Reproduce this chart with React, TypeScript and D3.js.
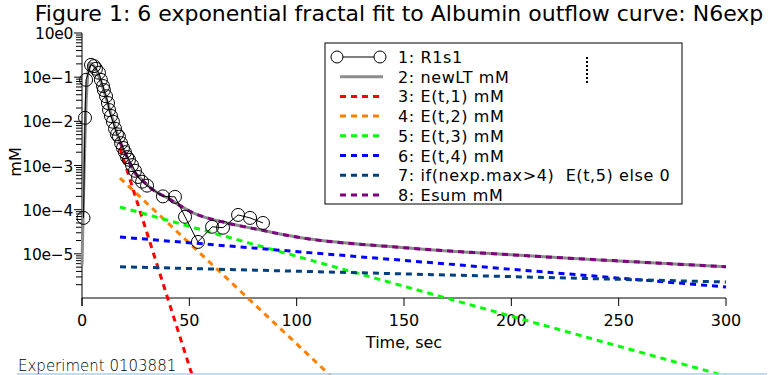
import React from 'react';
import * as d3 from 'd3';

// R1s1 data points (time, mM)
const r1s1Time = [0.7, 1.4, 1.9, 4.2, 5.6, 6.5, 7.9, 8.8, 9.8, 10.2, 11.2, 12.1, 12.6, 13.5, 14.4, 15.4, 16.3, 17.2, 18.2, 19.1, 20.0, 21.0, 21.9, 23.3, 24.7, 26.1, 28.0, 30.3, 37.7, 43.3, 48.0, 54.0, 60.6, 65.7, 72.7, 78.3, 84.3];
const r1s1Val = [6.5e-5, 1.2e-2, 8.7e-2, 0.19, 0.178, 0.155, 0.126, 0.087, 0.063, 0.051, 0.037, 0.026, 0.018, 0.0132, 0.0098, 0.0068, 0.0051, 0.0045, 0.0032, 0.0025, 0.002, 0.00155, 0.00135, 0.00102, 7.6e-4, 5.5e-4, 4.3e-4, 3.5e-4, 2.0e-4, 1.95e-4, 6.9e-5, 1.86e-5, 4.1e-5, 3.9e-5, 7.6e-5, 6.5e-5, 5.0e-5];

// newLT model curve
const newLTTime = [0, 0.6, 1.4, 2.2, 3.7, 14.4, 17.7, 21.0, 23.8, 28.0, 33.1, 39.6, 51.7, 67.5, 82.9, 94.1, 100, 150, 200, 250, 300];
const newLTVal = [5.6e-6, 1.15e-4, 4.5e-3, 5.1e-2, 0.21, 1.07e-2, 3.4e-3, 1.55e-3, 7.9e-4, 4.7e-4, 2.8e-4, 1.86e-4, 8.5e-5, 5.0e-5, 3.5e-5, 2.7e-5, 2.4e-5, 1.38e-5, 9.5e-6, 6.9e-6, 5.1e-6];

// Esum curve
const esumTime = [17.7, 21.0, 23.8, 28.0, 33.1, 39.6, 51.7, 67.5, 82.9, 94.1, 100, 150, 200, 250, 300];
const esumVal = [3.4e-3, 1.55e-3, 7.9e-4, 4.7e-4, 2.8e-4, 1.86e-4, 8.5e-5, 5.0e-5, 3.5e-5, 2.7e-5, 2.4e-5, 1.38e-5, 9.5e-6, 6.9e-6, 5.1e-6];

// exponential components: start / end readings
const e1Time = [17.7, 52];
const e1Val = [2.5e-3, 1.4e-8];
const e2Time = [17.7, 116];
const e2Val = [5.2e-4, 1.7e-8];
const e3Time = [17.7, 300];
const e3Val = [1.15e-4, 1.7e-8];
const e4Time = [17.7, 300];
const e4Val = [2.4e-5, 1.78e-6];
const e5Time = [17.7, 300];
const e5Val = [5.1e-6, 2.3e-6];

const xTicks = [0, 50, 100, 150, 200, 250, 300];
const yDecades = [0, -1, -2, -3, -4, -5];

const legendLabels = ['1: R1s1', '2: newLT mM', '3: E(t,1) mM', '4: E(t,2) mM', '5: E(t,3) mM', '6: E(t,4) mM', '7: if(nexp.max>4)  E(t,5) else 0', '8: Esum mM'];
const legendColors = ['#000000', '#8c8c8c', '#ff0000', '#ff8000', '#00ff00', '#0000ff', '#004080', '#800080'];

const W = 775;
const H = 375;
const font = '"DejaVu Sans", Verdana, sans-serif';

const App = () => {
  const x = d3.scaleLinear().domain([0, 300]).range([82, 726]);
  const y = d3.scaleLog().domain([1e-6, 1]).range([298, 33]);

  const zip = (t: number[], v: number[]) => t.map((d, i) => [d, v[i]] as [number, number]);
  const line = d3.line<[number, number]>().x(d => x(d[0])).y(d => y(d[1]));
  const smooth = d3.line<[number, number]>().x(d => x(d[0])).y(d => y(d[1])).curve(d3.curveMonotoneX);

  const r1s1 = zip(r1s1Time, r1s1Val);
  const comps = [
    { d: zip(e1Time, e1Val), c: legendColors[2] },
    { d: zip(e2Time, e2Val), c: legendColors[3] },
    { d: zip(e3Time, e3Val), c: legendColors[4] },
    { d: zip(e4Time, e4Val), c: legendColors[5] },
    { d: zip(e5Time, e5Val), c: legendColors[6] },
  ];

  // minor log ticks
  const minor: number[] = [];
  for (let k = -6; k < 0; k++) {
    for (let m = 2; m <= 9; m++) minor.push(m * Math.pow(10, k));
  }

  const lx = 325, ly = 43, rowY0 = 57, rowDy = 19.7;

  return (
    <svg width={W} height={H} style={{ position: 'absolute', left: 0, top: 0, background: '#fff' }} fontFamily={font}>
      <rect width={W} height={H} fill="#fff" />
      <text x={399} y={21} textAnchor="middle" fontSize={22}>
        Figure 1: 6 exponential fractal fit to Albumin outflow curve: N6exp
      </text>

      {/* y axis */}
      <line x1={82} x2={82} y1={33} y2={306} stroke="#000" />
      {minor.map((v, i) => (
        <line key={'m' + i} x1={76} x2={82} y1={y(v)} y2={y(v)} stroke="#000" />
      ))}
      {yDecades.map(k => (
        <g key={'y' + k}>
          <line x1={74} x2={82} y1={y(Math.pow(10, k))} y2={y(Math.pow(10, k))} stroke="#000" />
          <text x={73} y={y(Math.pow(10, k)) + 6} textAnchor="end" fontSize={15.5} letterSpacing={-0.3}>
            {'10e' + (k === 0 ? '0' : '\u2212' + -k)}
          </text>
        </g>
      ))}
      <text transform="translate(21,162) rotate(-90)" textAnchor="middle" fontSize={16}>mM</text>

      {/* x axis */}
      <line x1={82} x2={726} y1={298} y2={298} stroke="#000" />
      {xTicks.map(t => (
        <g key={'x' + t}>
          <line x1={x(t)} x2={x(t)} y1={298} y2={306} stroke="#000" />
          <text x={x(t)} y={326} textAnchor="middle" fontSize={16}>{t}</text>
        </g>
      ))}
      <text x={404} y={348} textAnchor="middle" fontSize={16}>Time, sec</text>

      {/* curves */}
      <path d={smooth(zip(newLTTime, newLTVal)) || ''} fill="none" stroke={legendColors[1]} strokeWidth={3} />
      {comps.map((s, i) => (
        <path key={'c' + i} d={line(s.d) || ''} fill="none" stroke={s.c} strokeWidth={3} strokeDasharray="6,5" />
      ))}
      <path d={smooth(zip(esumTime, esumVal)) || ''} fill="none" stroke={legendColors[7]} strokeWidth={3} strokeDasharray="6,5" />
      <path d={line(r1s1) || ''} fill="none" stroke="#000" strokeWidth={1} />
      {r1s1.map((d, i) => (
        <circle key={'p' + i} cx={x(d[0])} cy={y(d[1])} r={6.5} fill="none" stroke="#000" />
      ))}

      {/* legend */}
      <rect x={lx} y={ly} width={357} height={161} fill="#fff" stroke="#000" />
      {legendLabels.map((lab, i) => {
        const ry = rowY0 + i * rowDy;
        return (
          <g key={'l' + i}>
            {i === 0 ? (
              <g>
                <line x1={337} x2={380} y1={ry} y2={ry} stroke="#000" />
                <circle cx={337} cy={ry} r={6} fill="#fff" stroke="#000" />
                <circle cx={380} cy={ry} r={6} fill="#fff" stroke="#000" />
              </g>
            ) : (
              <line x1={340} x2={383} y1={ry} y2={ry} stroke={legendColors[i]} strokeWidth={3} strokeDasharray={i === 1 ? undefined : '6,5'} />
            )}
            <text x={398} y={ry + 6} fontSize={16} letterSpacing={0.6} style={{ whiteSpace: 'pre' }}>{lab}</text>
          </g>
        );
      })}
      <line x1={587} x2={587} y1={57} y2={85} stroke="#000" strokeWidth={2} strokeDasharray="2,2" />

      {/* footer */}
      <line x1={17} x2={767} y1={374} y2={374} stroke="#a8d0f0" strokeWidth={1.5} />
      <text x={18} y={371} fontSize={15} fontWeight={300}>Experiment 0103881</text>
    </svg>
  );
};

export default App;
